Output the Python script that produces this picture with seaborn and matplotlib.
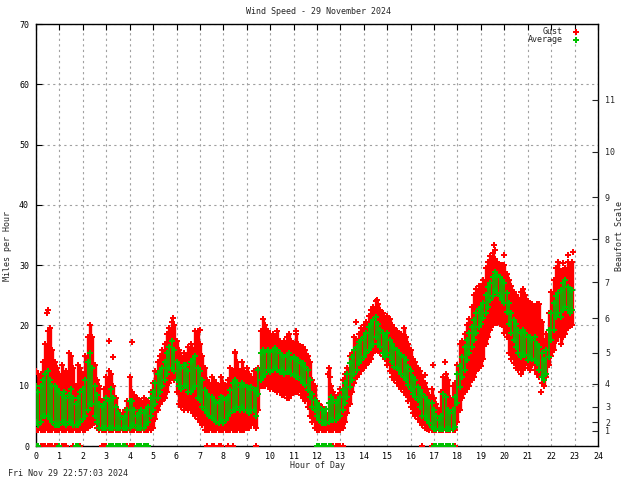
import numpy as np
import seaborn as sns
import matplotlib.pyplot as plt
from matplotlib.lines import Line2D

# readings every 0.1 hour, 0.0 .. 22.9
hours = np.round(np.arange(0, 23, 0.1), 1)

# gust envelope (mph), one row per hour
gust_hi = [
    12.5, 12, 12, 14, 17, 19, 19.5, 16, 14, 13,
    12, 13.5, 12, 12.5, 15.5, 15, 13, 10, 13.5, 13,
    12, 15, 18, 20, 18, 13.5, 11, 10, 7.5, 9.5,
    11.5, 12.5, 12, 10, 8, 6, 5.5, 5.5, 6, 7.5,
    11.5, 9, 8.5, 8, 7.5, 7.5, 8, 7.5, 7.5, 9,
    10.5, 12.5, 14, 15, 16, 17, 18.5, 19.5, 20.5, 20,
    17.5, 16, 15, 15.5, 15, 16.5, 17, 16, 19, 19,
    17, 15, 13, 11, 10.5, 11.5, 11, 10.5, 10, 11.5,
    10.5, 10, 11, 13, 12.5, 15.5, 14, 12.5, 14, 12.5,
    13, 12, 11.5, 12.5, 12, 13, 19, 21, 20, 19,
    18.5, 18.5, 18, 19, 17.5, 17, 17.5, 18, 18.5, 17.5,
    17, 18.5, 17, 16.5, 16.5, 16, 15, 14, 11, 10,
    7.5, 7, 6.5, 6, 5.5, 13, 10, 9, 8, 8.5,
    9.5, 11, 12, 13, 15, 15.5, 18, 17.5, 18.5, 19.5,
    20, 20.5, 21.5, 22.5, 23, 24, 23.5, 22.5, 22, 21,
    21.5, 21, 20, 19.5, 19, 18.5, 18.5, 19.5, 18, 17,
    16, 14.5, 14, 13, 12.5, 11.5, 10.5, 9.5, 8.5, 9.5,
    8, 7, 6, 9, 11.5, 12, 11, 8, 10, 10.5,
    13.5, 17, 17.5, 18.5, 20, 21, 23, 25, 26, 26.5,
    26.5, 27.5, 29.5, 30.5, 31.5, 32, 31, 30.5, 30, 30,
    30, 28.5, 27.5, 26.5, 25.5, 25, 24.5, 25.5, 26, 25,
    24, 23.5, 23.5, 23, 23.5, 23.5, 20.5, 17.5, 18.5, 22,
    25.5, 27.5, 29.5, 30.5, 29, 29, 29.5, 30.5, 30, 30.5,
]
gust_lo = [
    2.7, 2.7, 2.7, 2.7, 2.7, 2.7, 2.7, 2.7, 2.7, 2.7,
    2.7, 2.7, 2.7, 2.7, 2.7, 2.7, 2.7, 2.7, 2.7, 2.7,
    2.7, 2.7, 3, 3.5, 3.5, 4, 3, 2.7, 2.7, 2.7,
    2.7, 2.7, 2.7, 2.7, 2.7, 2.7, 2.7, 2.7, 2.7, 2.7,
    2.7, 2.7, 2.7, 2.7, 2.7, 2.7, 2.7, 2.7, 2.7, 2.7,
    3, 4.5, 6, 7, 7.5, 8, 9, 10.5, 11.5, 11,
    9, 7, 6.5, 6, 6.5, 6, 6, 5.5, 5, 4.5,
    4, 3.5, 2.7, 2.7, 2.7, 2.7, 2.7, 2.7, 2.7, 2.7,
    2.7, 2.7, 2.7, 2.7, 2.7, 2.7, 2.7, 2.7, 2.7, 2.7,
    3, 3, 3.5, 3.5, 3, 6, 10, 10, 10, 10,
    9.5, 9.5, 9.5, 9, 9, 8.5, 8.5, 8, 8, 8.5,
    9, 9, 9, 8.5, 8, 7.5, 6.5, 5, 4, 3,
    2.7, 2.7, 2.7, 2.7, 2.7, 2.7, 2.7, 2.7, 2.7, 2.7,
    2.7, 3, 4, 5.5, 7, 9, 10.5, 11.5, 12, 12.5,
    13, 13.5, 14, 14.5, 15.5, 16, 16, 15.5, 15, 14.5,
    13.5, 12.5, 11.5, 11, 10.5, 10, 9.5, 9, 8.5, 7.5,
    6.5, 5.5, 5, 4.5, 4, 3.5, 3, 2.8, 2.7, 2.7,
    2.7, 2.7, 2.7, 2.7, 2.7, 2.7, 2.7, 2.7, 2.7, 2.7,
    4, 6, 8, 9, 9.5, 10, 11, 11.5, 12.5, 13,
    13.2, 14.5, 17, 18, 19.2, 20, 20.4, 20.4, 20.2, 20,
    18.7, 18, 15.5, 14.5, 13.7, 13, 12.6, 12, 12.6, 13.5,
    13, 12.6, 13.5, 12.6, 12, 11.5, 10.5, 10, 11.5, 13.5,
    15, 16, 17.5, 18, 17, 18, 18.5, 19.5, 20, 20,
]

# single gusts standing clear of the band
spike_hours = [0.45, 0.5, 0.6, 2.3, 3.1, 3.3, 4.1, 5.85, 7.0, 8.5, 9.7, 11.1,
               12.45, 12.55, 13.65, 14.55, 15.7, 16.6, 16.95, 17.45, 19.55,
               19.6, 20.0, 20.8, 21.55, 22.5, 22.7, 22.95]
spike_mph = [22.0, 22.5, 19.5, 20.0, 17.5, 14.7, 17.3, 21.3, 19.3, 15.6, 21.0,
             19.0, 12.0, 11.5, 20.6, 24.2, 19.5, 11.7, 13.4, 14.0, 33.3, 32.5,
             31.7, 26.1, 9.0, 30.3, 31.7, 32.2]

# average envelope (mph)
avg_hi = [
    10, 9, 10, 11, 12, 12.5, 11, 10, 10, 9.5,
    9, 8.5, 9, 8, 8.5, 9.5, 8, 7, 8, 9,
    9.5, 11, 14, 15.5, 13, 10, 8.5, 7, 6.5, 7,
    8, 7.5, 9.5, 8, 6.5, 5.5, 5, 4.5, 5, 6,
    7.5, 7.5, 6, 5, 5.5, 6, 5.5, 6, 6.5, 8,
    9, 10.5, 12, 12.5, 13, 14, 15.5, 16.5, 17.5, 16,
    14, 13.5, 13, 13.5, 13.5, 12.5, 14, 14.5, 15, 13,
    12.5, 11, 9.3, 8.7, 8.2, 8.2, 7.6, 7.1, 7.3, 8.2,
    7.9, 7.6, 8.2, 9.3, 10.4, 11, 10.4, 9.8, 10.4, 10.1,
    9.8, 9.6, 9.8, 9.3, 9.3, 12.6, 15.4, 15.9, 15.6, 15.9,
    15.6, 15.9, 16.2, 15.9, 15.4, 15.1, 14.8, 15.1, 15.4, 14.5,
    14.8, 14.5, 14.3, 13.7, 13.7, 13.1, 12.6, 11, 8.7, 7.6,
    7.1, 6.5, 6, 5.4, 6.2, 7.1, 8.2, 7.6, 7.1, 7.6,
    8.2, 9.3, 10.4, 12, 13.7, 14.8, 15.9, 16.5, 17.3, 17.6,
    18.1, 18.7, 19.8, 20.3, 20.9, 21.4, 20.3, 19.2, 18.7, 18.1,
    18.7, 17.6, 17, 16.2, 15.9, 15.4, 15.1, 14.8, 14.3, 13.1,
    12.5, 11.5, 10.9, 9.8, 9.3, 8.7, 8.2, 7.6, 7.1, 7.1,
    6, 4.9, 4.3, 4.9, 8.7, 8.2, 6, 5.4, 6, 8.2,
    12, 13.2, 14.8, 16.5, 17.6, 18.7, 19.8, 20.9, 22, 22.8,
    23.1, 23.7, 25, 26.4, 27, 28.1, 28.9, 28.4, 28.1, 27.5,
    27, 25.3, 23.7, 22, 20.9, 20.3, 19.2, 18.7, 19.2, 18.7,
    18.1, 18.1, 17.6, 18.1, 17, 16.5, 15.4, 14.3, 15.9, 19.2,
    22, 23.7, 24.8, 25.3, 25.9, 27, 27.5, 26.4, 25.9, 25.9,
]
avg_lo = [
    4, 3.5, 4, 5, 5, 5, 4.5, 4, 3.5, 3.5,
    3.5, 4, 4, 3.5, 4, 4, 3.5, 3.5, 3.5, 4,
    4.5, 5, 6, 7, 7, 5, 4, 3, 3, 3,
    3, 3, 3, 3, 3, 3, 3, 3, 3, 3,
    3, 3.5, 3.5, 3, 3, 3, 3, 3.5, 4, 5,
    6, 7, 8, 9, 10, 11, 12, 13, 13, 12.5,
    11, 10, 9.5, 10, 10, 9, 9, 9.5, 10, 8,
    7.6, 6.5, 6, 5.4, 4.9, 4.6, 4.3, 4, 3.8, 4.3,
    3.8, 4.3, 4.9, 5.4, 6, 6, 6.5, 6, 6.5, 6,
    6, 5.4, 6, 6, 4.9, 8.7, 11, 11.5, 12, 12.6,
    12.3, 12.6, 12.9, 12.6, 12.3, 12.6, 12, 12.3, 12.6, 12,
    11.8, 11.5, 11.5, 11, 10.4, 10.1, 9.3, 8.2, 6.5, 6,
    4.9, 4.3, 3.8, 3.8, 3.8, 4, 4.3, 4.3, 4.3, 4.9,
    4.9, 6, 7.1, 8.2, 9.8, 11, 12, 12.6, 13.7, 14.3,
    14.8, 15.4, 15.9, 16.5, 17, 18.1, 17, 16.5, 15.4, 14.8,
    15.4, 14.8, 14, 13.1, 12.9, 12.6, 12, 11.5, 11, 10.1,
    9.5, 8.7, 8.2, 7.6, 6.5, 4.9, 4.9, 4.3, 3.8, 3.2,
    2.8, 2.8, 2.8, 2.8, 2.8, 2.8, 2.8, 2.8, 2.8, 3.2,
    7.1, 9.8, 11.5, 12.6, 14.3, 15.4, 16.5, 17.6, 18.7, 19.8,
    20.3, 21.2, 22, 23.1, 24.2, 24.8, 25.9, 25.3, 24.8, 24.2,
    23.7, 22.3, 20.3, 18.7, 17.6, 16.5, 15.4, 14.8, 15.4, 15.1,
    14.3, 14.8, 14.5, 14.3, 13.7, 12.6, 11.5, 10.9, 12, 14.8,
    17.6, 19.2, 21.4, 22, 21.4, 22.6, 23.1, 22.6, 22, 22.6,
]

# hours with calm (zero) readings
gust_zero_hours = [0.2, 0.3, 0.4, 0.5, 0.6, 0.7, 0.8, 0.9, 1.0, 1.1, 1.2, 1.3,
                   1.6, 1.7, 1.8, 1.9,
                   2.8, 2.9, 3.0, 3.1, 3.2, 3.3, 3.4, 3.5, 3.6, 3.7, 3.8, 3.9,
                   4.0, 4.1, 4.2, 4.3, 4.4, 4.5, 4.6, 4.7, 4.8,
                   7.3, 7.5, 7.6, 7.8, 7.9, 8.2, 8.4, 9.4,
                   12.0, 12.1, 12.2, 12.3, 12.4, 12.5, 12.6, 12.7, 12.8, 12.9,
                   13.0, 13.1, 16.5,
                   16.9, 17.0, 17.1, 17.2, 17.3, 17.4, 17.5, 17.6, 17.7, 17.8, 17.9]
avg_zero_hours = [0.0, 0.1, 1.0, 1.7, 1.8,
                  3.1, 3.2, 3.3, 3.4, 3.5, 3.6, 3.7, 3.8,
                  4.3, 4.4, 4.5, 4.6, 4.7, 4.8,
                  12.0, 12.1, 12.2, 12.3, 12.4, 12.5, 12.6,
                  17.0, 17.1, 17.2, 17.3, 17.4, 17.5, 17.6, 17.7, 17.8]

beaufort_mph = [2.5, 3.9, 6.5, 10.3, 15.5, 21.2, 27.2, 34.3, 41.3, 48.8, 57.4]
beaufort_labels = [str(b) for b in range(1, 12)]

RED = "#ff0000"
GREEN = "#00c000"

sns.set_style("white")
plt.rcParams["font.family"] = ["DejaVu Sans Mono"]
plt.rcParams["font.size"] = 6

fig = plt.figure(figsize=(6.4, 4.8), dpi=100)
ax = fig.add_axes([36 / 640, 34 / 480, 562 / 640, 422 / 480])

mk = dict(marker="P", s=16, linewidth=0, legend=False, zorder=3)

# gust
ax.vlines(hours, gust_lo, gust_hi, color=RED, lw=2.4, zorder=2)
sns.scatterplot(x=hours, y=gust_hi, color=RED, ax=ax, **mk)
sns.scatterplot(x=hours, y=gust_lo, color=RED, ax=ax, **mk)
sns.scatterplot(x=spike_hours, y=spike_mph, color=RED, ax=ax, **mk)
sns.scatterplot(x=gust_zero_hours, y=[0] * len(gust_zero_hours), color=RED, ax=ax, **mk)

# average (thinner strokes so the gust band shows through, as in the scatter)
ax.vlines(hours, avg_lo, avg_hi, color=GREEN, lw=1.2, zorder=4)
mk["zorder"] = 5
mk["s"] = 20
sns.scatterplot(x=hours, y=avg_hi, color=GREEN, ax=ax, **mk)
sns.scatterplot(x=hours, y=avg_lo, color=GREEN, ax=ax, **mk)
sns.scatterplot(x=avg_zero_hours, y=[0] * len(avg_zero_hours), color=GREEN, ax=ax, **mk)

ax.set_xlim(0, 24)
ax.set_ylim(0, 70)
ax.set_xticks(range(0, 25))
ax.set_yticks(range(0, 71, 10))
ax.set_xlabel("")
ax.set_ylabel("")
ax.grid(True, color="#a0a0a0", linestyle=(0, (2, 3)), linewidth=0.8)
ax.set_axisbelow(True)
ax.tick_params(direction="in", length=4, width=0.8, top=True, right=False,
               colors="black", labelsize=6, pad=4)
ax.tick_params(axis="y", pad=5)
for s in ax.spines.values():
    s.set_color("black")
    s.set_linewidth(1)

ax2 = ax.twinx()
ax2.set_ylim(0, 70)
ax2.set_yticks(beaufort_mph)
ax2.set_yticklabels(beaufort_labels)
ax2.tick_params(direction="in", length=4, width=0.8, labelsize=6, pad=5)
for s in ax2.spines.values():
    s.set_visible(False)

fig.text(318 / 640, 1 - 12 / 480, "Wind Speed - 29 November 2024", ha="center", va="center")
fig.text(318 / 640, 1 - 466 / 480, "Hour of Day", ha="center", va="center")
fig.text(8 / 640, 1 - 246 / 480, "Miles per Hour", rotation=90, ha="center", va="center")
fig.text(620 / 640, 1 - 236 / 480, "Beaufort Scale", rotation=90, ha="center", va="center")
fig.text(8 / 640, 1 - 474 / 480, "Fri Nov 29 22:57:03 2024", ha="left", va="center")

# key
fig.text(563 / 640, 1 - 32 / 480, "Gust", ha="right", va="center")
fig.text(563 / 640, 1 - 40 / 480, "Average", ha="right", va="center")
fig.add_artist(Line2D([576 / 640], [1 - 32 / 480], transform=fig.transFigure,
                      marker="P", ms=5, color=RED, ls="", mew=0))
fig.add_artist(Line2D([576 / 640], [1 - 40 / 480], transform=fig.transFigure,
                      marker="P", ms=5, color=GREEN, ls="", mew=0))

fig.savefig("out.png", dpi=100)
